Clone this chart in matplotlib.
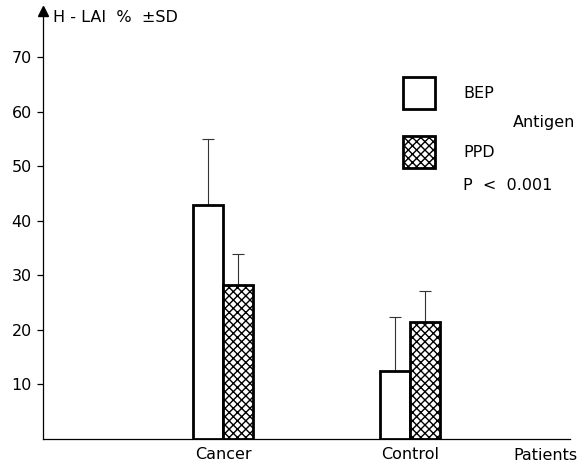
import numpy as np
import matplotlib
matplotlib.use('Agg')
import matplotlib.pyplot as plt
from matplotlib.patches import Patch

# data
groups = ['Cancer', 'Control']
bep = [43.0, 12.4]
bep_sd = [12.0, 10.0]
ppd = [28.2, 21.5]
ppd_sd = [5.8, 5.6]
yticks = [10, 20, 30, 40, 50, 60, 70]

plt.rcParams['font.family'] = 'DejaVu Sans'
plt.rcParams['hatch.linewidth'] = 1.0

fig = plt.figure(figsize=(5.78, 4.65), dpi=100)
ax = fig.add_axes([43/578, 1 - 439/465, 527/578, 428/465])

x = np.arange(len(groups))
w = 0.16

ax.bar(x - w/2, bep, w, color='white', edgecolor='black', linewidth=2.0, zorder=3)
ax.bar(x + w/2, ppd, w, color='white', edgecolor='black', linewidth=2.0,
       hatch='xxxx', zorder=3)
ax.errorbar(x - w/2, bep, yerr=[np.zeros(len(bep)), bep_sd], fmt='none',
            ecolor='#333333', elinewidth=0.8, capsize=4, capthick=0.8, zorder=2)
ax.errorbar(x + w/2, ppd, yerr=[np.zeros(len(ppd)), ppd_sd], fmt='none',
            ecolor='#333333', elinewidth=0.8, capsize=4, capthick=0.8, zorder=2)

ax.set_xlim(-180/187, (527 - 180)/187)
ax.set_ylim(0, 78.5)

ax.spines['top'].set_visible(False)
ax.spines['right'].set_visible(False)
ax.spines['left'].set_linewidth(0.9)
ax.spines['bottom'].set_linewidth(0.9)

ax.set_yticks(yticks)
ax.set_yticklabels([str(t) for t in yticks], fontsize=11.5)
ax.tick_params(axis='y', direction='out', length=4, width=0.9, pad=4)
ax.set_xticks(x)
ax.set_xticklabels(groups, fontsize=11.5)
ax.tick_params(axis='x', length=0, pad=6)

# arrow on the y axis
ax.plot(0, 1, marker='^', markersize=7, color='black', transform=ax.transAxes,
        clip_on=False)

fig.text(53/578, 1 - 18/465, 'H - LAI  %  ±SD', fontsize=11.5, va='center', ha='left')
fig.text(545/578, 1 - 455/465, 'Patients', fontsize=11.5, va='center', ha='center')

handles = [Patch(facecolor='white', edgecolor='black', linewidth=2.0, label='BEP'),
           Patch(facecolor='white', edgecolor='black', linewidth=2.0, hatch='xxxx',
                 label='PPD')]
ax.legend(handles=handles, loc='upper left', bbox_to_anchor=(403/578, 1 - 77/465),
          bbox_transform=fig.transFigure, frameon=False, fontsize=11.5,
          handlelength=2.0, handleheight=2.75, labelspacing=1.65, handletextpad=1.8,
          borderpad=0, borderaxespad=0)

fig.text(513/578, 1 - 123/465, 'Antigen', fontsize=11.5, va='center', ha='left')
fig.text(463/578, 1 - 185/465, 'P  <  0.001', fontsize=11.5, va='center', ha='left')

fig.savefig('out.png', dpi=100, facecolor='white')
